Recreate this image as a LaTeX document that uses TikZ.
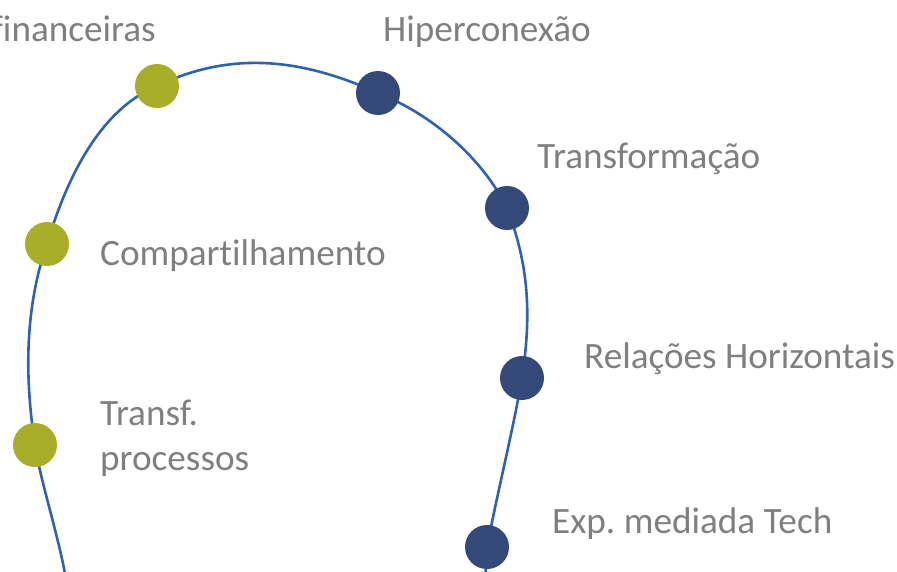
\documentclass[tikz,border=0pt]{standalone}
\usepackage{fontspec}
\setmainfont{Carlito}[Ligatures={NoCommon}]
\frenchspacing
\usetikzlibrary{backgrounds}

\definecolor{olive}{HTML}{A8AD2A}
\definecolor{navy}{HTML}{344978}
\definecolor{curveblue}{HTML}{2E62B0}
\definecolor{textgray}{HTML}{7F7F7F}

\tikzstyle{olivedot}=[circle, fill=olive, inner sep=0pt, minimum size=44pt]
\tikzstyle{navydot}=[circle, fill=navy, inner sep=0pt, minimum size=44pt]
\tikzstyle{term}=[inner sep=0pt, text=textgray, font=\fontsize{37.2}{45}\selectfont]
\tikzstyle{curve}=[curveblue, line width=2.6pt]

\begin{document}
\begin{tikzpicture}[x=1pt, y=-1pt]
      \useasboundingbox (0, 0) rectangle (897, 571);

      \node[olivedot] (proc) at (35, 445) {};
      \node[olivedot] (comp) at (47, 244) {};
      \node[olivedot] (fin) at (157, 86) {};
      \node[navydot] (hip) at (378, 93) {};
      \node[navydot] (tra) at (507, 208) {};
      \node[navydot] (rel) at (522, 378) {};
      \node[navydot] (exp) at (487, 547) {};
      \coordinate (lo-left) at (67, 585);
      \coordinate (lo-right) at (485, 585);

      \node[term, anchor=base east] (t-fin) at (156, 41) {financeiras};
      \node[term, anchor=base west] (t-hip) at (383, 41) {Hiperconexão};
      \node[term, anchor=base west] (t-tra) at (537, 168) {Transformação};
      \node[term, anchor=base west] (t-comp) at (100, 265) {Compartilhamento};
      \node[term, anchor=base west] (t-rel) at (584, 368) {Relações Horizontais};
      \node[term, anchor=base west, align=left] (t-proc) at (100, 470) {Transf.\\processos};
      \node[term, anchor=base west] (t-exp) at (552, 533) {Exp. mediada Tech};

      \begin{pgfonlayer}{background}
      \draw[curve] (lo-left) .. controls (60, 540) and (40, 480) .. (proc.center)
            .. controls (25, 380) and (24, 310) .. (comp.center)
            .. controls (65, 184) and (97, 111) .. (fin.center)
            .. controls (232, 50) and (303, 59) .. (hip.center)
            .. controls (433, 115) and (482, 158) .. (tra.center)
            .. controls (530, 268) and (531, 318) .. (rel.center)
            .. controls (513, 430) and (498, 490) .. (exp.center)
            -- (lo-right);
      \end{pgfonlayer}
    \end{tikzpicture}
\end{document}
